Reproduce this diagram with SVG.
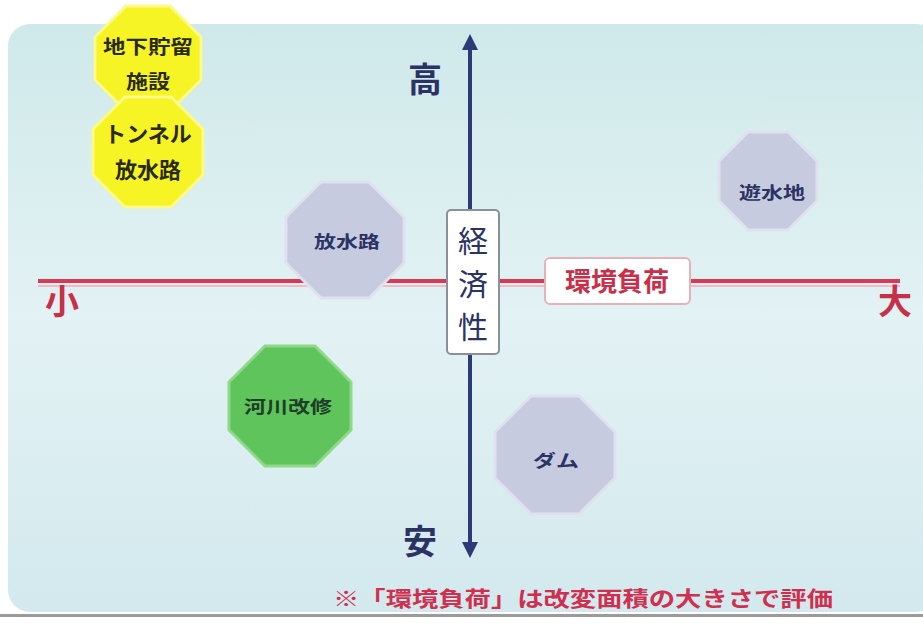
<svg xmlns="http://www.w3.org/2000/svg" width="923" height="626" viewBox="0 0 923 626">
<defs>
<linearGradient id="bg" x1="0" y1="0" x2="0" y2="1">
<stop offset="0" stop-color="#cfe9ea"/>
<stop offset="0.5" stop-color="#e3f2f4"/>
<stop offset="1" stop-color="#d3e9ee"/>
</linearGradient>
<marker id="ah" viewBox="0 0 10 10" refX="5" refY="5" markerWidth="4" markerHeight="4" orient="auto-start-reverse">
<path d="M0,0 L10,5 L0,10 Z" fill="#2c3a78"/>
</marker>
<style>
.oct-g{fill:#c6cbe0;stroke:#dfe2ee;stroke-width:3}
.oct-y{fill:#f6f425;stroke:#fbfa8a;stroke-width:3}
.oct-gr{fill:#5ec45b;stroke:#8ed888;stroke-width:3}
.t{font-family:"Noto Sans CJK JP","Noto Sans CJK SC",sans-serif;font-weight:bold;text-anchor:middle}
.tn{fill:#2b3364;font-size:17px}
.ty{fill:#2a2a10}
.big{font-size:34px}
.v{font-size:30px;font-weight:normal;fill:#2b3364}
</style>
</defs>
<rect x="0" y="0" width="923" height="626" fill="#ffffff"/>
<rect x="8" y="24" width="930" height="588" rx="22" fill="url(#bg)"/>
<rect x="0" y="614" width="923" height="3" fill="#9a9a9a"/>

<g id="connectors">
<line x1="38" y1="281" x2="900" y2="281" stroke="#d63a55" stroke-width="4"/>
<line x1="38" y1="286" x2="900" y2="286" stroke="#f4b9c4" stroke-width="2"/>
<line x1="470" y1="42" x2="470" y2="550" stroke="#2c3a78" stroke-width="4" marker-start="url(#ah)" marker-end="url(#ah)"/>
</g>

<g id="label-high"><text class="t big" x="425" y="92" fill="#2b3364">高</text></g>
<g id="label-low"><text class="t big" x="420" y="554" fill="#2b3364">安</text></g>
<g id="label-small"><text class="t big" x="62" y="314" fill="#c8304a">小</text></g>
<g id="label-large"><text class="t big" x="895" y="314" fill="#c8304a">大</text></g>

<g id="econ">
<rect x="447" y="210" width="52" height="144" rx="4" fill="#ffffff" stroke="#8a8f9c" stroke-width="2"/>
<text class="t v" x="473" y="252">経</text>
<text class="t v" x="473" y="295">済</text>
<text class="t v" x="473" y="338">性</text>
</g>

<g id="env">
<rect x="545" y="258" width="145" height="46" rx="5" fill="#ffffff" stroke="#e8b0b8" stroke-width="2"/>
<text class="t" x="617" y="291" font-size="26" fill="#c8304a">環境負荷</text>
</g>

<g id="n-tika">
<polygon class="oct-y" points="126,6 170,6 201,37 201,80 170,111 126,111 95,80 95,37"/>
<text class="t ty" x="148" y="54" font-size="19" textLength="90" lengthAdjust="spacingAndGlyphs">地下貯留</text>
<text class="t ty" x="148" y="89" font-size="19" textLength="44" lengthAdjust="spacingAndGlyphs">施設</text>
</g>
<g id="n-tunnel">
<polygon class="oct-y" points="125,97 171,97 203,129 203,175 171,207 125,207 93,175 93,129"/>
<text class="t ty" x="148" y="142" font-size="22">トンネル</text>
<text class="t ty" x="148" y="178" font-size="22">放水路</text>
</g>
<g id="n-housui">
<polygon class="oct-g" points="321,182 369,182 404,217 404,263 369,298 321,298 286,263 286,217"/>
<text class="t tn" x="347" y="248" textLength="66" lengthAdjust="spacingAndGlyphs">放水路</text>
</g>
<g id="n-yusui">
<polygon class="oct-g" points="748,132 788,132 817,161 817,201 788,230 748,230 719,201 719,161"/>
<text class="t tn" x="772" y="199" textLength="66" lengthAdjust="spacingAndGlyphs">遊水地</text>
</g>
<g id="n-kasen">
<polygon class="oct-gr" points="265,346 315,346 351,382 351,430 315,466 265,466 229,430 229,382"/>
<text class="t" x="288" y="413" font-size="17" textLength="88" lengthAdjust="spacingAndGlyphs" fill="#1f3d2a">河川改修</text>
</g>
<g id="n-dam">
<polygon class="oct-g" points="531,396 579,396 615,432 615,478 579,514 531,514 495,478 495,432"/>
<text class="t tn" x="556" y="467" textLength="46" lengthAdjust="spacingAndGlyphs">ダム</text>
</g>

<g id="note">
<text class="t" x="583" y="606" font-size="21" textLength="500" lengthAdjust="spacingAndGlyphs" fill="#d0304f">※「環境負荷」は改変面積の大きさで評価</text>
</g>
</svg>
